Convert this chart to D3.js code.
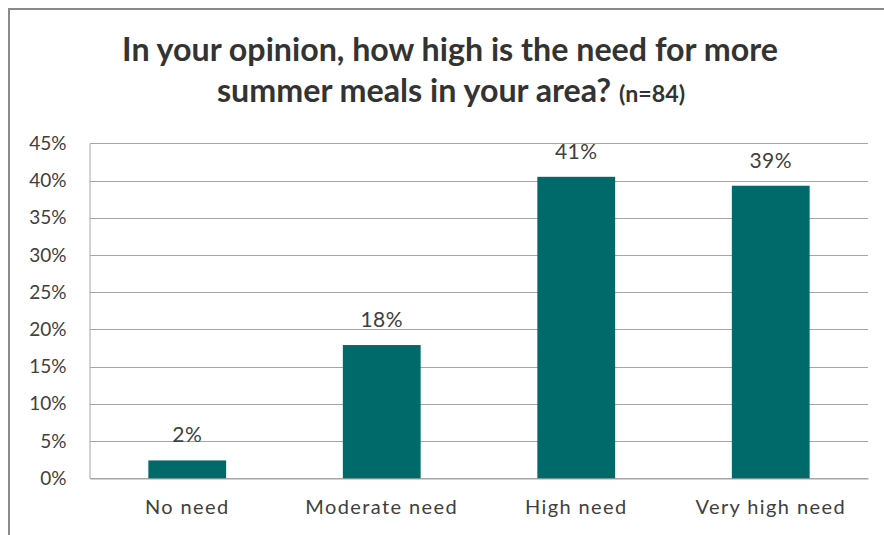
<!DOCTYPE html>
<html><head><meta charset="utf-8">
<script src="https://cdn.jsdelivr.net/npm/d3@7"></script>
<style>html,body{margin:0;padding:0;background:#fff;} svg{display:block;}</style>
</head><body>
<svg id="chart" width="884" height="535"></svg>
<script>
const categories = ["No need", "Moderate need", "High need", "Very high need"];
const values = [0.024, 0.179, 0.405, 0.393];
const valueLabels = ["2%", "18%", "41%", "39%"];
const yTicks = [0, 0.05, 0.10, 0.15, 0.20, 0.25, 0.30, 0.35, 0.40, 0.45];
const titleLine1 = "In your opinion, how high is the need for more";
const titleLine2 = "summer meals in your area? ";
const titleNote = "(n=84)";

const svg = d3.select("#chart");
const FONT = "Lato, 'Open Sans', sans-serif";
const TXT = "#404040";

// outer frame (extends past canvas on right/bottom)
svg.append("rect").attr("x", 9).attr("y", 9).attr("width", 900).attr("height", 560)
  .attr("fill", "#fff").attr("stroke", "#8a8a8a").attr("stroke-width", 2);

const plot = {left: 90, right: 868, top: 143.3, bottom: 478.3};
const x = d3.scaleBand().domain(categories).range([plot.left, plot.right])
  .paddingInner(0.6).paddingOuter(0.3);
const y = d3.scaleLinear().domain([0, 0.45]).range([plot.bottom, plot.top]);

// gridlines
svg.append("g").selectAll("line").data(yTicks).join("line")
  .attr("x1", plot.left).attr("x2", plot.right)
  .attr("y1", d => Math.round(y(d)) + 0.5).attr("y2", d => Math.round(y(d)) + 0.5)
  .attr("stroke", "#a6a6a6").attr("stroke-width", 1);

// y axis
const yAxis = svg.append("g").attr("transform", `translate(${plot.left - 0.5},0)`)
  .call(d3.axisLeft(y).tickValues(yTicks).tickSize(0).tickPadding(23).tickFormat(d3.format(".0%")));
yAxis.select(".domain").attr("stroke", "#a6a6a6");
yAxis.selectAll("text").attr("font-family", FONT).attr("font-size", 19).attr("fill", TXT);

// x axis
const xAxis = svg.append("g").attr("transform", `translate(0,${Math.round(plot.bottom) + 0.5})`)
  .call(d3.axisBottom(x).tickSize(0).tickPadding(21));
xAxis.select(".domain").attr("stroke", "#a6a6a6");
xAxis.selectAll("text").attr("font-family", FONT).attr("font-size", 20).attr("fill", TXT)
  .attr("letter-spacing", "1.4px");

// bars
svg.append("g").selectAll("rect").data(categories).join("rect")
  .attr("x", d => x(d)).attr("width", x.bandwidth())
  .attr("y", (d, i) => y(values[i])).attr("height", (d, i) => y(0) - y(values[i]))
  .attr("fill", "#006A6A");

// data labels
svg.append("g").selectAll("text").data(categories).join("text")
  .attr("x", d => x(d) + x.bandwidth() / 2)
  .attr("y", (d, i) => y(values[i]) - 18)
  .attr("text-anchor", "middle").attr("font-family", FONT).attr("font-size", 21).attr("fill", TXT)
  .attr("letter-spacing", "0.5px")
  .text((d, i) => valueLabels[i]);

// title
const t1 = svg.append("text").attr("x", 450).attr("y", 61).attr("text-anchor", "middle")
  .attr("font-family", FONT).attr("font-weight", "bold").attr("font-size", 28).attr("fill", "#333")
  .text(titleLine1);
const w1 = t1.node().getComputedTextLength();
const fs = 28 * 656 / w1;
t1.attr("font-size", fs);
const t2 = svg.append("text").attr("x", 451).attr("y", 102).attr("text-anchor", "middle")
  .attr("font-family", FONT).attr("font-weight", "bold").attr("font-size", fs).attr("fill", "#333");
t2.append("tspan").text(titleLine2);
t2.append("tspan").attr("font-size", fs * 0.72).text(titleNote);
</script>
</body></html>
